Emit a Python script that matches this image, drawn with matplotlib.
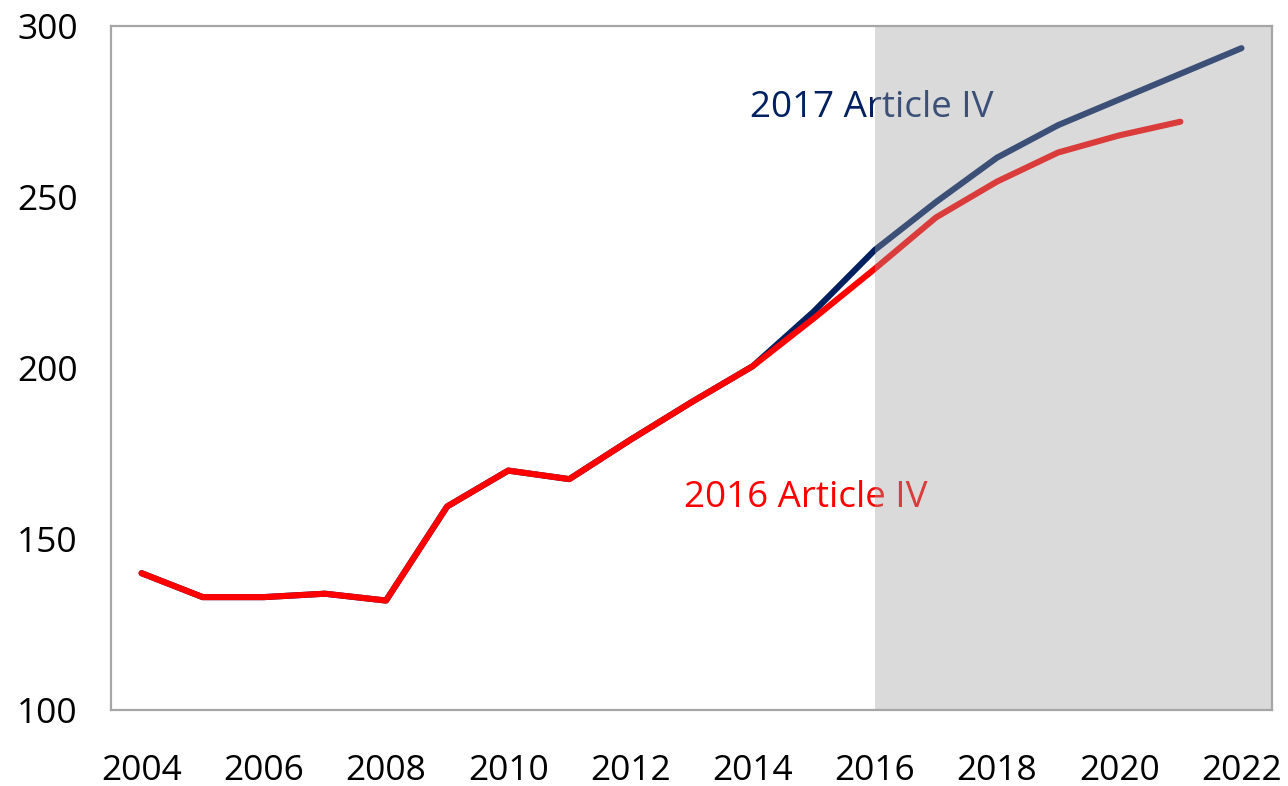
import matplotlib
matplotlib.use("Agg")
import matplotlib.pyplot as plt

plt.rcParams['font.family'] = ['Open Sans', 'DejaVu Sans']

years_2016 = list(range(2004, 2022))
vals_2016 = [140, 133, 133, 134, 132, 159.5, 170, 167.5, 179, 190, 200.5, 214.5, 229, 244, 254.5, 263, 268, 272]

years_2017 = list(range(2004, 2023))
vals_2017 = [140, 133, 133, 134, 132, 159.5, 170, 167.5, 179, 190, 200.5, 216.5, 234.5, 248.5, 261.5, 271, 278.5, 286, 293.5]

navy = '#002060'
red = '#ff0000'

fig = plt.figure(figsize=(12.88, 7.86), dpi=100)
ax = fig.add_axes([0.0862, 0.0967, 0.9014, 0.8703])

ax.plot(years_2017, vals_2017, color=navy, lw=4.4, solid_capstyle='round', zorder=2)
ax.plot(years_2016, vals_2016, color=red, lw=4.4, solid_capstyle='round', zorder=3)

ax.text(2013.96, 276, '2017 Article IV', color=navy, fontsize=26.5, va='center', ha='left', zorder=4)
ax.text(2012.88, 162, '2016 Article IV', color=red, fontsize=26.5, va='center', ha='left', zorder=4)

# projection shading drawn over the lines
ax.axvspan(2016, 2022.5, color='#9f9f9f', alpha=0.38, lw=0, zorder=5)

ax.set_xlim(2003.5, 2022.5)
ax.set_ylim(100, 300)
ax.set_xticks(range(2004, 2023, 2))
ax.set_yticks(range(100, 301, 50))
ax.tick_params(axis='both', length=0, labelsize=25.5)
ax.tick_params(axis='y', pad=24)
ax.tick_params(axis='x', pad=32)
for s in ax.spines.values():
    s.set_color('#a6a6a6')
    s.set_linewidth(1.6)
    s.set_zorder(6)

fig.savefig('out.png', dpi=100)
